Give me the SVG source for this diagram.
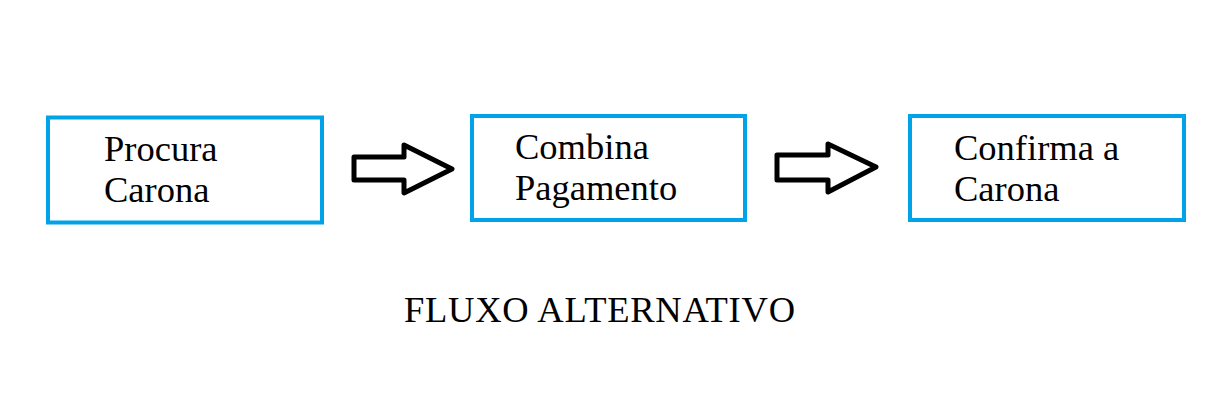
<svg xmlns="http://www.w3.org/2000/svg" width="1206" height="411" viewBox="0 0 1206 411">
<style>
.box{fill:#fff;stroke:#00a2e8;stroke-width:4}
.arr{fill:#fff;stroke:#000;stroke-width:5;stroke-linejoin:round}
text{font-family:"Liberation Serif","Times New Roman",serif;font-size:36.5px;fill:#000}
</style>
<rect width="1206" height="411" fill="#fff"/>
<g id="node1"><rect class="box" x="48" y="117.5" width="274" height="105"/>
<text x="104" y="161">Procura</text><text x="104" y="202">Carona</text></g>
<g id="node2"><rect class="box" x="472" y="116" width="273" height="104"/>
<text x="515" y="159">Combina</text><text x="515" y="200">Pagamento</text></g>
<g id="node3"><rect class="box" x="910" y="116" width="274" height="104"/>
<text x="954" y="160">Confirma a</text><text x="954" y="201">Carona</text></g>
<g id="connectors">
<path class="arr" d="M354,157 H404 V145 L452,169 L404,193 V180 H354 Z"/>
<path class="arr" d="M777,155 H828 V144 L876,167 L828,192 V180 H777 Z"/>
</g>
<text x="404" y="322" textLength="391" lengthAdjust="spacing">FLUXO ALTERNATIVO</text>
</svg>
